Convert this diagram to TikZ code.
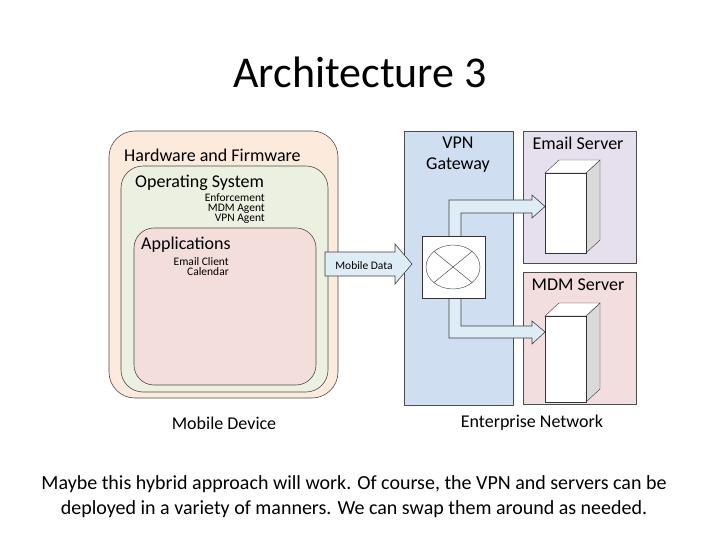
\documentclass[tikz,border=0pt]{standalone}
\usepackage{fontspec}
\setmainfont{Carlito}
\usetikzlibrary{shapes.geometric}
\definecolor{hwc}{RGB}{252,234,220}
\definecolor{osc}{RGB}{236,240,224}
\definecolor{appc}{RGB}{244,222,220}
\definecolor{vpnc}{RGB}{207,222,240}
\definecolor{esc}{RGB}{230,224,238}
\definecolor{msc}{RGB}{242,222,222}
\definecolor{arrc}{RGB}{222,236,246}
\begin{document}
\begin{tikzpicture}[x=1pt,y=-1pt,
  box/.style={draw=black!70,line width=0.6pt},
  arr/.style={draw=black!75,fill=arrc,line width=0.6pt},
  lbl/.style={font=\fontsize{18}{19}\selectfont,inner sep=0pt},
  sml/.style={font=\fontsize{11.5}{10}\selectfont,align=right,inner sep=0pt,anchor=north east}]
\useasboundingbox[fill=white] (0,0) rectangle (720,540);
\node[font=\fontsize{44}{48}\selectfont] (title) at (360,72) {Architecture 3};
% mobile device
\path[box,fill=hwc,rounded corners=26pt] (109,131) rectangle (338,398);
\path[box,fill=osc,rounded corners=22pt] (121,166) rectangle (328,392);
\path[box,fill=appc,rounded corners=20pt] (134,228) rectangle (316,385);
\node[lbl,anchor=west] (hw) at (124,155) {Hardware and Firmware};
\node[lbl,anchor=west] (os) at (135,183) {Operating System};
\node[sml] (osl) at (265,193.5) {Enforcement\\MDM Agent\\VPN Agent};
\node[lbl,anchor=west] (app) at (141,245) {Applications};
\node[sml] (appl) at (229,257) {Email Client\\Calendar};
\node[lbl] (md) at (224,423) {Mobile Device};
% enterprise
\path[box,fill=vpnc] (404,131) rectangle (513,405);
\path[box,fill=esc] (523,131) rectangle (636,263);
\path[box,fill=msc] (523,272) rectangle (636,404);
\node[lbl,align=center,font=\fontsize{18}{21}\selectfont] (vpn) at (458,155) {VPN\\Gateway};
\node[lbl] (es) at (578,143) {Email Server};
\node[lbl] (ms) at (578,285) {MDM Server};
\node[lbl] (en) at (532,423) {Enterprise Network};
% mobile data arrow
\path[arr] (325,252) -- (395,252) -- (395,244) -- (412,264) -- (395,284) -- (395,276) -- (325,276) -- cycle;
\node[font=\fontsize{11.5}{12}\selectfont] (mdata) at (364,266) {Mobile Data};
% L arrows
\path[arr] (449,236) -- (449,200) -- (532,200) -- (532,195) -- (545,206.5) -- (532,218) -- (532,213) -- (461,213) -- (461,236);
\path[arr] (449,298) -- (449,338) -- (532,338) -- (532,344) -- (545,332) -- (532,321) -- (532,326) -- (461,326) -- (461,298);
% switch
\path[box,fill=white,draw=black!80] (422,236) rectangle (485,298);
\node[draw=black!80,fill=white,ellipse,minimum width=54pt,minimum height=44pt,inner sep=0pt] (sw) at (453,267) {};
\draw[black!80] (sw.north west) -- (sw.south east) (sw.north east) -- (sw.south west);
% servers
\foreach \t/\b in {173/253,316/402}{
  \path[draw=black!80,fill=gray!30] (586,\t) -- (600,\t-13) -- (600,\b-13) -- (586,\b) -- cycle;
  \path[draw=black!80,fill=white] (545,\t) -- (559,\t-13) -- (600,\t-13) -- (586,\t) -- cycle;
  \path[draw=black!80,fill=white] (545,\t) rectangle (586,\b);
}
\node[font=\fontsize{20}{25}\selectfont,align=center] (cap) at (354,497) {Maybe this hybrid approach will work. Of course, the VPN and servers can be\\deployed in a variety of manners. We can swap them around as needed.};
\end{tikzpicture}
\end{document}
